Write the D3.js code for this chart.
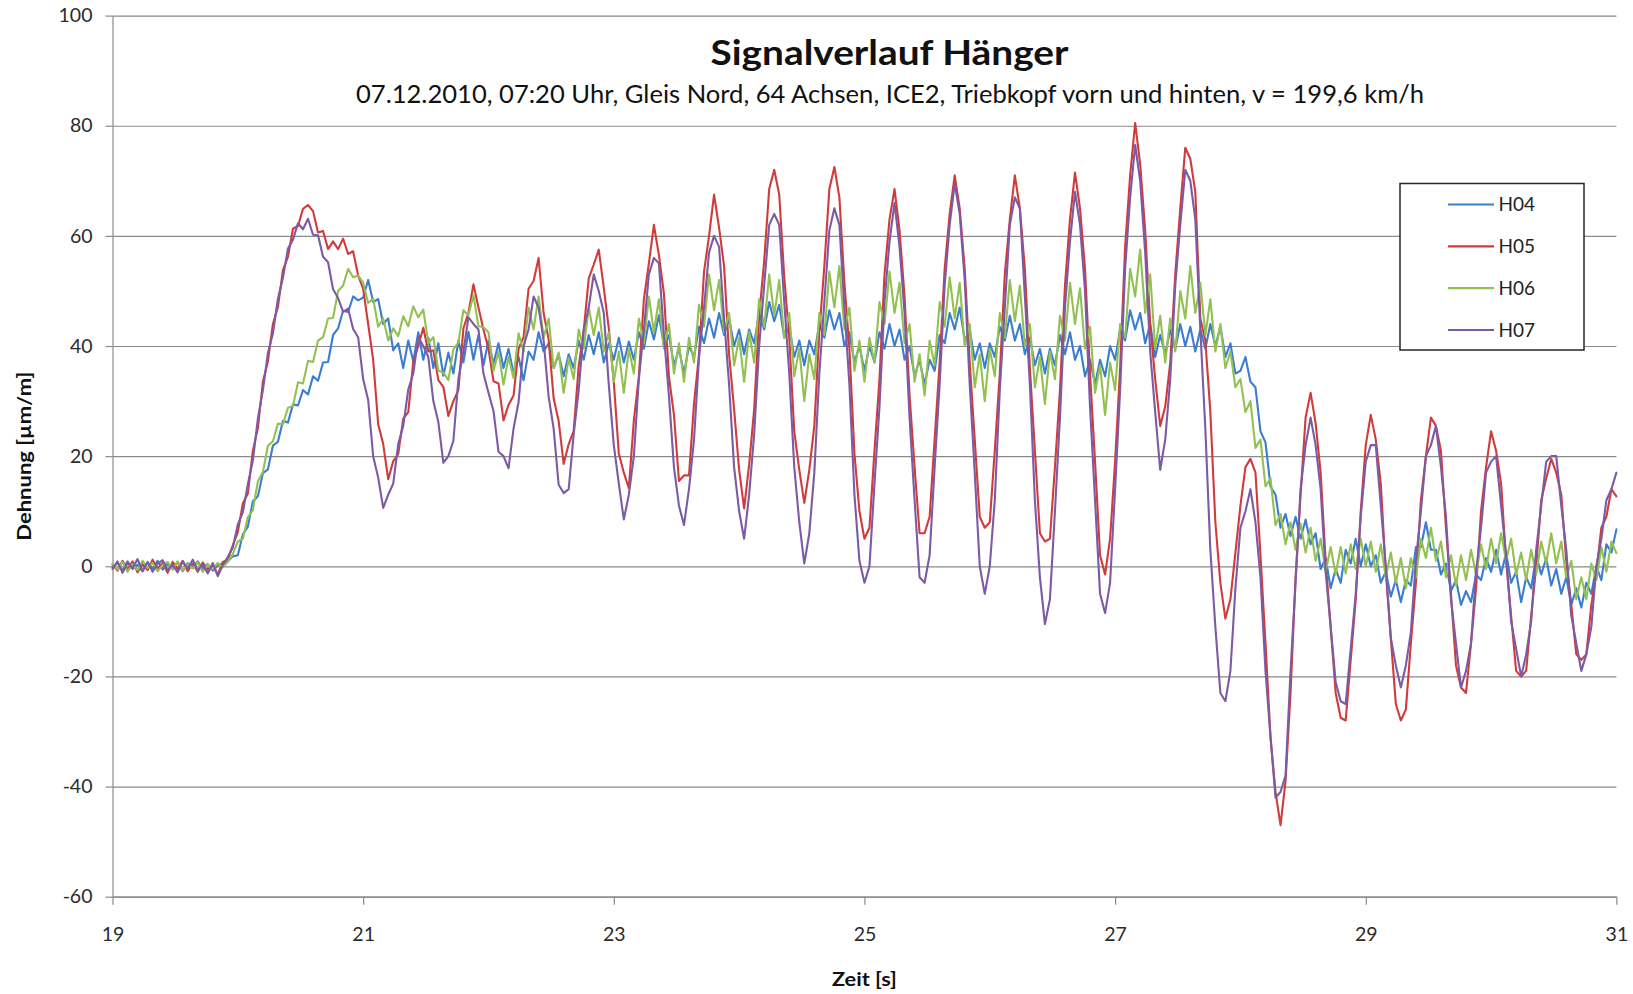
<!DOCTYPE html>
<html>
<head>
<meta charset="utf-8">
<script src="https://cdn.jsdelivr.net/npm/d3@7"></script>
<style>
  html, body { margin: 0; padding: 0; background: #fff; }
  svg { display: block; }
  text { font-family: Lato, "Open Sans", sans-serif; }
</style>
</head>
<body>
<svg id="chart" width="1633" height="994"></svg>
<script>
// Strain gauge signals of the hanger, sampled every 0.04 s from t = 19 s
const timeStart = 19;
const sampleStep = 0.04;

const seriesNames = ["H04", "H05", "H06", "H07"];
const seriesColors = ["#3b7dd0", "#d03c3c", "#92c152", "#7b5ba6"];

// one row per second
const h04 = [
  -0.2, 0.6, -0.8, 0.9, -0.5, 0.3, -0.9, 0.7, -0.4, 1.0, -0.6, 0.4, -0.2, 0.7, -0.9, 0.6, -0.3, 0.9, -0.5, 0.4, -0.8, 0.2, 0.5, 0.9, 1.8,
  2.0, 5.8, 7.2, 11.8, 12.7, 16.9, 17.6, 21.9, 22.6, 26.4, 26.1, 29.4, 29.2, 32.0, 31.2, 34.5, 33.7, 37.0, 37.1, 42.0, 43.2, 46.4, 46.2, 49.0, 48.3,
  48.8, 52.0, 48.0, 48.5, 44.0, 45.0, 39.2, 40.5, 36.0, 41.0, 37.2, 42.5, 37.5, 41.5, 36.0, 40.5, 34.6, 38.8, 35.0, 41.0, 37.0, 42.6, 37.5, 42.0, 36.5,
  41.0, 36.8, 40.5, 36.0, 39.5, 35.0, 38.0, 33.8, 39.0, 37.5, 42.5, 39.0, 40.5, 36.0, 38.5, 34.5, 38.5, 36.0, 41.0, 37.5, 42.0, 38.5, 42.5, 37.0, 40.5,
  37.5, 41.5, 37.0, 40.8, 37.5, 42.5, 39.5, 44.5, 41.2, 45.6, 40.0, 42.0, 36.5, 39.5, 35.0, 40.0, 38.0, 43.5, 40.5, 45.0, 41.5, 46.0, 42.0, 45.0, 40.0,
  43.0, 38.5, 43.0, 40.5, 46.0, 43.0, 48.0, 44.5, 47.5, 41.5, 43.5, 38.0, 41.0, 36.5, 41.0, 38.5, 44.0, 41.5, 46.5, 43.0, 46.0, 40.0, 42.5, 37.0, 40.0,
  35.5, 40.0, 37.0, 42.5, 39.5, 44.0, 40.0, 43.0, 37.5, 40.0, 34.5, 37.5, 33.0, 37.5, 35.5, 42.0, 40.5, 46.0, 43.0, 47.0, 41.0, 43.0, 37.5, 40.5, 36.0,
  40.5, 38.0, 43.5, 41.0, 45.5, 41.0, 44.0, 38.5, 41.5, 36.5, 39.5, 35.0, 39.5, 36.5, 42.0, 38.5, 42.5, 37.5, 40.0, 34.5, 37.5, 33.0, 37.5, 34.5, 40.0,
  37.5, 43.0, 41.0, 46.5, 43.0, 46.0, 40.5, 44.0, 38.0, 42.0, 38.5, 43.0, 39.5, 44.0, 40.0, 43.5, 39.0, 43.0, 39.5, 44.0, 40.0, 43.5, 38.0, 40.5, 35.0,
  35.5, 38.0, 33.5, 32.5, 24.5, 22.5, 14.5, 13.0, 7.0, 9.5, 5.5, 9.0, 5.0, 8.5, 4.0, 6.0, -0.5, 1.5, -4.0, -0.5, -3.0, 3.0, 0.5, 5.0, 0.0,
  4.0, 0.0, 2.0, -3.0, -1.0, -5.5, -2.5, -6.5, -2.5, -3.5, 3.5, 3.5, 8.0, 3.0, 3.0, -1.5, 0.5, -4.5, -2.5, -7.0, -4.5, -6.5, -1.5, -2.5, 1.5,
  -1.0, 3.0, -1.5, 2.5, -3.0, -1.0, -6.5, -2.0, -4.0, 2.0, -1.5, 1.5, -3.5, -0.5, -5.0, -2.0, -7.0, -4.0, -7.5, -3.0, -5.0, 0.0, -2.5, 4.0, 2.5,
  6.7
];

const h05 = [
  0.3, -0.8, 1.0, -0.6, 0.9, -1.1, 0.4, -0.7, 1.2, -0.4, 0.6, -1.2, 0.8, -0.5, 1.0, -0.9, 0.5, -1.0, 0.7, -0.6, 0.2, -1.5, 0.8, 1.2, 3.8,
  6.2, 11.4, 13.2, 21.0, 25.1, 33.5, 37.2, 44.0, 47.1, 53.8, 56.2, 61.3, 61.8, 64.9, 65.6, 64.5, 60.6, 60.9, 57.6, 59.0, 57.6, 59.5, 56.7, 57.2, 52.8,
  50.4, 44.0, 37.5, 25.8, 22.2, 15.8, 19.1, 20.4, 26.8, 28.0, 37.2, 40.0, 43.3, 39.0, 39.2, 33.8, 32.6, 27.3, 30.0, 32.0, 43.2, 46.0, 51.2, 47.0, 43.0,
  39.5, 33.6, 33.2, 26.5, 29.3, 31.0, 39.5, 41.6, 50.4, 51.8, 56.0, 46.0, 41.2, 30.5, 26.4, 18.6, 22.2, 24.6, 36.4, 42.8, 52.3, 54.8, 57.5, 50.6, 43.2,
  33.5, 20.5, 17.0, 14.2, 26.5, 34.5, 48.5, 55.0, 62.0, 56.5, 49.5, 34.5, 27.5, 15.5, 16.5, 16.5, 29.5, 38.5, 53.5, 60.0, 67.5, 61.5, 54.5, 38.5, 28.5,
  17.5, 10.5, 18.5, 28.5, 45.5, 55.5, 68.5, 72.0, 67.5, 52.5, 41.5, 24.5, 17.5, 11.5, 17.5, 25.5, 42.5, 54.5, 68.5, 72.5, 67.0, 51.5, 39.5, 20.5, 10.0,
  5.0, 7.0, 21.0, 34.0, 53.0, 63.0, 68.5, 61.0, 49.0, 31.0, 18.0, 6.0, 6.0, 9.0, 23.0, 37.0, 54.0, 64.0, 71.0, 65.0, 54.0, 37.0, 23.0, 9.0, 7.0,
  8.0, 21.0, 35.0, 53.0, 63.0, 71.0, 65.0, 54.0, 36.0, 21.0, 6.0, 4.5, 5.0, 18.0, 32.0, 51.0, 63.0, 71.5, 65.0, 54.0, 35.0, 19.0, 2.0, -1.5, 5.0,
  19.0, 36.0, 58.0, 71.0, 80.5, 73.0, 61.0, 44.0, 34.0, 25.5, 29.0, 37.0, 53.0, 65.0, 76.0, 74.0, 68.0, 45.0, 41.0, 28.0, 8.0, -3.0, -9.5, -6.0, 2.5,
  11.0, 18.0, 19.5, 17.0, 2.0, -14.0, -31.0, -41.0, -47.0, -39.0, -23.0, -2.0, 13.0, 27.0, 31.5, 26.0, 17.0, 1.0, -11.0, -23.0, -27.5, -28.0, -17.0, -6.0, 10.0,
  22.0, 27.5, 23.0, 15.0, -1.0, -13.0, -25.0, -28.0, -26.0, -14.0, -3.0, 12.0, 20.0, 27.0, 25.5, 21.0, 7.0, -5.0, -18.0, -22.0, -23.0, -14.0, -4.0, 10.0, 18.0,
  24.5, 21.0, 15.0, 1.0, -9.0, -19.0, -20.0, -19.0, -9.0, 0.0, 12.0, 16.0, 19.5, 17.0, 13.0, 1.0, -7.0, -16.0, -17.0, -16.0, -7.0, -1.0, 7.0, 9.0, 14.0,
  12.7
];

const h06 = [
  0.5, -0.6, 0.8, -1.0, 0.4, -0.7, 1.0, -0.3, 0.6, -0.9, 0.2, 0.8, -0.6, 0.9, -0.8, 0.5, -0.4, 0.7, -1.0, 0.3, -0.5, 0.6, -0.2, 0.8, 2.2,
  4.5, 5.0, 8.9, 10.2, 15.4, 17.1, 21.9, 22.7, 25.9, 25.8, 28.8, 29.1, 33.4, 33.2, 37.3, 37.1, 41.0, 41.6, 45.0, 45.1, 50.0, 51.0, 54.0, 52.5, 52.8,
  51.5, 47.8, 48.6, 43.5, 45.0, 41.0, 43.2, 41.8, 45.4, 43.6, 47.2, 45.2, 46.6, 40.5, 41.6, 35.5, 35.2, 33.8, 39.4, 40.6, 46.5, 45.6, 49.2, 43.6, 43.4,
  42.5, 35.5, 39.0, 33.0, 38.0, 34.2, 42.3, 39.0, 47.0, 43.0, 49.0, 41.5, 45.0, 36.0, 38.8, 31.5, 37.8, 34.0, 43.0, 39.5, 47.0, 42.0, 47.0, 39.0, 42.5,
  33.5, 39.0, 31.5, 39.5, 35.0, 45.0, 40.5, 49.0, 42.5, 48.5, 39.5, 44.0, 35.0, 40.5, 33.5, 41.5, 37.0, 47.5, 43.5, 53.0, 46.5, 52.0, 42.5, 46.0, 36.5,
  41.5, 33.5, 42.5, 37.0, 48.5, 43.5, 53.0, 45.5, 52.0, 41.5, 46.0, 34.5, 39.5, 30.0, 38.5, 34.0, 46.0, 42.0, 53.5, 47.0, 54.5, 43.0, 47.0, 35.5, 41.0,
  33.5, 41.5, 37.0, 48.0, 44.0, 53.5, 46.0, 51.5, 40.5, 44.0, 33.5, 38.5, 31.0, 41.0, 36.5, 48.0, 43.5, 52.5, 45.0, 51.5, 40.0, 44.0, 32.5, 38.5, 30.0,
  39.5, 34.5, 46.0, 41.5, 52.0, 44.5, 51.0, 40.0, 44.0, 32.5, 38.0, 29.5, 39.0, 34.0, 45.5, 41.0, 51.5, 44.0, 50.5, 39.5, 43.5, 31.5, 36.5, 27.5, 37.0,
  32.0, 44.0, 41.5, 54.0, 49.0, 57.5, 46.0, 53.0, 39.5, 45.5, 37.0, 45.0, 39.0, 50.0, 45.0, 54.5, 46.0, 51.5, 42.0, 48.5, 39.0, 44.0, 36.0, 39.0, 32.5,
  34.0, 28.0, 30.0, 21.5, 23.0, 14.5, 16.0, 7.5, 9.5, 4.0, 8.0, 3.0, 7.8, 2.5, 7.0, 1.0, 5.0, -1.0, 3.5, -1.5, 3.5, -1.3, 4.0, -0.5, 5.0,
  0.0, 4.5, -1.0, 4.0, -2.0, 2.5, -3.0, 1.5, -4.0, 1.5, -2.0, 5.0, 1.5, 7.0, 1.0, 4.5, -2.0, 2.0, -3.5, 2.0, -2.5, 3.0, -1.5, 4.0, -0.5,
  5.0, 0.5, 6.0, 1.0, 5.0, -1.5, 2.5, -2.5, 3.0, -1.5, 4.5, 0.5, 6.0, 0.5, 4.5, -2.0, 1.0, -6.0, -2.0, -6.0, 0.5, -2.5, 3.5, -1.0, 4.5,
  2.4
];

const h07 = [
  -0.5, 0.9, -1.2, 0.6, -0.3, 1.3, -0.9, 0.8, -1.0, 0.5, 1.1, -0.7, 0.3, -1.1, 0.9, -0.4, 1.2, -0.8, 0.4, -1.3, 0.6, -1.8, 0.2, 1.7, 3.4,
  7.6, 9.8, 14.9, 19.2, 26.8, 32.0, 38.7, 42.3, 48.6, 52.4, 57.7, 59.3, 62.3, 61.2, 63.1, 60.2, 60.1, 56.2, 55.2, 50.3, 48.7, 46.2, 46.8, 43.1, 41.6,
  34.0, 30.2, 20.0, 16.1, 10.6, 13.0, 15.0, 22.2, 25.5, 32.1, 35.0, 41.6, 40.0, 38.0, 30.0, 26.2, 18.8, 20.0, 22.8, 34.0, 39.0, 45.2, 44.0, 43.0, 35.0,
  31.5, 28.2, 20.8, 20.0, 17.8, 25.0, 29.8, 40.0, 43.0, 49.0, 47.0, 41.0, 30.8, 25.0, 14.8, 13.3, 14.0, 24.0, 32.0, 43.0, 47.0, 53.0, 50.0, 46.0, 33.0,
  22.0, 15.0, 8.5, 13.0, 20.0, 34.0, 43.0, 53.0, 56.0, 55.0, 42.0, 31.0, 18.0, 11.0, 7.5, 14.0, 23.0, 38.0, 47.0, 57.0, 60.0, 58.0, 45.0, 33.0, 18.0,
  10.0, 5.0, 13.0, 24.0, 40.0, 51.0, 62.0, 64.0, 62.0, 48.0, 35.0, 18.0, 8.0, 0.5, 6.0, 17.0, 35.0, 48.0, 61.0, 65.0, 62.0, 47.0, 33.0, 13.0, 1.0,
  -3.0, 0.0, 15.0, 29.0, 48.0, 59.0, 66.0, 58.0, 46.0, 27.0, 12.0, -2.0, -3.0, 2.0, 18.0, 33.0, 51.0, 62.0, 69.5, 64.0, 52.0, 33.0, 17.0, 0.0, -5.0,
  0.0, 12.0, 32.0, 47.0, 62.0, 67.0, 65.0, 49.0, 33.0, 12.0, -2.0, -10.5, -6.0, 10.0, 27.0, 47.0, 59.0, 68.0, 62.0, 50.0, 29.0, 12.0, -5.0, -8.5, -3.0,
  14.0, 32.0, 54.0, 67.0, 76.5, 70.0, 57.0, 39.0, 28.0, 17.5, 23.0, 34.0, 51.0, 62.0, 72.0, 70.0, 63.0, 43.0, 25.0, 3.0, -11.0, -23.0, -24.5, -19.0, -4.0,
  7.0, 10.0, 14.0, 8.0, -2.0, -19.0, -31.0, -42.0, -41.0, -38.0, -19.0, -3.0, 14.0, 22.0, 27.0, 22.0, 14.0, -1.0, -11.0, -21.0, -24.5, -25.0, -15.0, -5.0, 9.0,
  19.0, 22.0, 22.0, 11.0, 0.0, -13.0, -18.0, -22.0, -18.0, -12.0, 1.0, 10.0, 20.0, 22.0, 25.5, 18.0, 9.0, -6.0, -14.0, -22.0, -19.0, -14.0, -1.0, 7.0, 17.0,
  19.0, 20.0, 11.0, 2.0, -10.0, -15.0, -20.0, -16.0, -10.0, 3.0, 11.0, 19.0, 20.0, 20.0, 11.0, 3.0, -9.0, -14.0, -19.0, -16.0, -11.0, 0.0, 5.0, 12.0, 14.0,
  17.0
];

const xTickValues = [19, 21, 23, 25, 27, 29, 31];
const yTickValues = [-60, -40, -20, 0, 20, 40, 60, 80, 100];

const titleText = "Signalverlauf Hänger";
const subtitleText = "07.12.2010, 07:20 Uhr, Gleis Nord, 64 Achsen, ICE2, Triebkopf vorn und hinten, v = 199,6 km/h";
const xTitleText = "Zeit [s]";
const yTitleText = "Dehnung [µm/m]";

const seriesValues = [h04, h05, h06, h07];

// ---- drawing ----
const svg = d3.select("#chart");
const plot = { left: 112.5, right: 1616.4, top: 15.6, bottom: 896.7 };
const gridColor = "#8a8a8a";
const plainNumber = d => String(d);   // hyphen-minus for negative labels

const x = d3.scaleLinear().domain([19, 31]).range([plot.left, plot.right]);
const y = d3.scaleLinear().domain([-60, 100]).range([plot.bottom, plot.top]);

// horizontal gridlines
const grid = svg.append("g")
  .attr("transform", `translate(${plot.left},0)`)
  .call(d3.axisLeft(y).tickValues(yTickValues).tickSize(-(plot.right - plot.left)).tickFormat(""));
grid.select(".domain").remove();
grid.selectAll(".tick line").attr("stroke", gridColor).attr("stroke-width", 1.2);

// y axis with short outer ticks and labels
const yAxis = svg.append("g")
  .attr("transform", `translate(${plot.left},0)`)
  .call(d3.axisLeft(y).tickValues(yTickValues).tickSize(7).tickSizeOuter(0).tickPadding(13).tickFormat(plainNumber));
yAxis.select(".domain").attr("stroke", gridColor).attr("stroke-width", 1.2);
yAxis.selectAll(".tick line").attr("stroke", gridColor).attr("stroke-width", 1.2);
yAxis.selectAll(".tick text")
  .attr("font-family", "Lato, sans-serif").attr("font-size", 19.5).attr("fill", "#2b2b2b");

// x axis
const xAxis = svg.append("g")
  .attr("transform", `translate(0,${plot.bottom})`)
  .call(d3.axisBottom(x).tickValues(xTickValues).tickSize(8).tickSizeOuter(0).tickPadding(22).tickFormat(plainNumber));
xAxis.select(".domain").attr("stroke", gridColor).attr("stroke-width", 1.2);
xAxis.selectAll(".tick line").attr("stroke", gridColor).attr("stroke-width", 1.2);
xAxis.selectAll(".tick text")
  .attr("font-family", "Lato, sans-serif").attr("font-size", 19.5).attr("fill", "#2b2b2b");

// series lines
const line = d3.line()
  .x((d, i) => x(timeStart + i * sampleStep))
  .y(d => y(d));

svg.append("g").selectAll("path")
  .data(seriesValues)
  .join("path")
  .attr("d", d => line(d))
  .attr("fill", "none")
  .attr("stroke", (d, i) => seriesColors[i])
  .attr("stroke-width", 2.1)
  .attr("stroke-linejoin", "round")
  .attr("stroke-linecap", "round");

// titles
svg.append("text")
  .attr("x", 889.5).attr("y", 64.5)
  .attr("text-anchor", "middle")
  .attr("font-size", 35).attr("font-weight", 700).attr("fill", "#111")
  .attr("textLength", 358).attr("lengthAdjust", "spacingAndGlyphs")
  .text(titleText);

svg.append("text")
  .attr("x", 890).attr("y", 102.5)
  .attr("text-anchor", "middle")
  .attr("font-size", 24.5).attr("fill", "#111")
  .attr("textLength", 1068).attr("lengthAdjust", "spacingAndGlyphs")
  .text(subtitleText);

svg.append("text")
  .attr("x", (plot.left + plot.right) / 2).attr("y", 986)
  .attr("text-anchor", "middle")
  .attr("font-size", 19).attr("font-weight", 700).attr("fill", "#111")
  .attr("textLength", 65).attr("lengthAdjust", "spacingAndGlyphs")
  .text(xTitleText);

svg.append("text")
  .attr("transform", `translate(31,${(plot.top + plot.bottom) / 2}) rotate(-90)`)
  .attr("text-anchor", "middle")
  .attr("font-size", 19).attr("font-weight", 700).attr("fill", "#111")
  .attr("textLength", 169).attr("lengthAdjust", "spacingAndGlyphs")
  .text(yTitleText);

// legend
const legend = svg.append("g").attr("transform", "translate(1400,183.5)");
legend.append("rect")
  .attr("width", 184).attr("height", 166.5)
  .attr("fill", "#fff").attr("stroke", "#262626").attr("stroke-width", 1.5);
const rowY = d3.scalePoint().domain(seriesNames).range([21, 146.5]);
const items = legend.selectAll("g.item")
  .data(seriesNames)
  .join("g")
  .attr("class", "item")
  .attr("transform", d => `translate(0,${rowY(d)})`);
items.append("line")
  .attr("x1", 48).attr("x2", 94).attr("y1", 0).attr("y2", 0)
  .attr("stroke", (d, i) => seriesColors[i]).attr("stroke-width", 2.1);
items.append("text")
  .attr("x", 98.5).attr("y", 0).attr("dy", "0.36em")
  .attr("font-size", 19).attr("fill", "#222")
  .text(d => d);
</script>
</body>
</html>
